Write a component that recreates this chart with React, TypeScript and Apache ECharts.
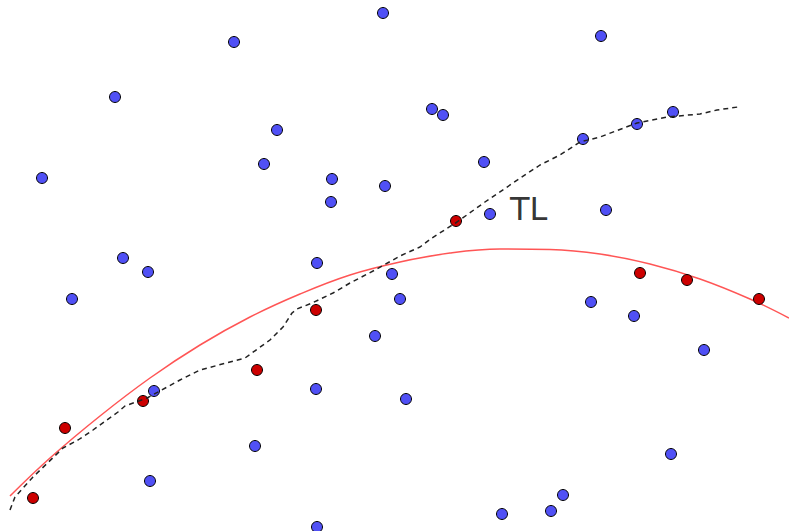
import React, { useEffect, useRef } from "react";
import * as echarts from "echarts";

const bluePoints: [number, number][] = [
  [383, 13], [234, 42], [601, 36], [115, 97], [432, 109], [443, 115], [277, 130],
  [673, 112], [637, 124], [583, 139], [42, 178], [264, 164], [332, 179], [385, 186],
  [484, 162], [331, 202], [490, 214], [606, 210], [123, 258], [148, 272], [317, 263],
  [392, 274], [72, 299], [400, 299], [591, 302], [634, 316], [375, 336], [704, 350],
  [154, 391], [316, 389], [406, 399], [255, 446], [150, 481], [671, 454], [563, 495],
  [551, 511], [502, 514], [317, 527],
];

const redPoints: [number, number][] = [
  [456, 221], [316, 310], [640, 273], [687, 280], [759, 299], [257, 370],
  [143, 401], [65, 428], [33, 498],
];

const fitCurve: [number, number][] = [
  [10, 496], [50, 458], [100, 416], [150, 378], [200, 345], [250, 317], [300, 294],
  [350, 275], [400, 262], [450, 253], [500, 249], [550, 249.5], [600, 254], [650, 264],
  [700, 279], [750, 299], [789, 318],
];

const dashedCurve: [number, number][] = [
  [10, 510], [15, 497], [33, 477], [63, 448], [78, 440], [93, 430], [118, 412],
  [125, 406], [147, 398], [180, 380], [200, 370], [245, 358], [270, 340], [283, 327],
  [292, 313], [297, 309], [312, 303], [333, 293], [350, 283], [375, 270], [400, 256],
  [420, 247], [432, 238], [457, 222], [485, 202], [513, 183], [540, 165], [560, 155],
  [580, 142], [600, 137], [637, 123], [667, 117], [700, 114], [717, 110], [738, 107],
];

const labelText = "TL";
const labelPos: [number, number] = [510, 209];

export default function App() {
  const ref = useRef<HTMLDivElement>(null);
  useEffect(() => {
    if (!ref.current) return;
    const chart = echarts.init(ref.current, null, { renderer: "svg" });
    chart.setOption({
      animation: false,
      grid: { left: 0, right: 0, top: 0, bottom: 0 },
      xAxis: { type: "value", min: 0, max: 789, show: false },
      yAxis: { type: "value", min: 0, max: 531, inverse: true, show: false },
      series: [
        {
          type: "line",
          data: fitCurve,
          smooth: 0.4,
          showSymbol: false,
          lineStyle: { color: "#ff5555", width: 1.5 },
          z: 2,
        },
        {
          type: "scatter",
          data: bluePoints,
          symbolSize: 11,
          itemStyle: { color: "#5050f5", borderColor: "#000", borderWidth: 1, opacity: 1 },
          z: 3,
        },
        {
          type: "scatter",
          data: redPoints,
          symbolSize: 11,
          itemStyle: { color: "#cc0000", borderColor: "#000", borderWidth: 1, opacity: 1 },
          z: 3,
        },
        {
          type: "line",
          data: dashedCurve,
          showSymbol: false,
          lineStyle: { color: "#222", width: 1.5, type: [5, 4] },
          z: 4,
        },
        {
          type: "scatter",
          data: [labelPos],
          symbolSize: 0,
          label: {
            show: true,
            position: "right",
            distance: 0,
            formatter: labelText,
            fontFamily: "DejaVu Sans",
            fontSize: 32,
            color: "#000",
          },
          z: 5,
        },
      ],
    });
    return () => chart.dispose();
  }, []);
  return (
    <div
      ref={ref}
      style={{ position: "absolute", left: 0, top: 0, width: 789, height: 531, background: "#fff" }}
    />
  );
}
